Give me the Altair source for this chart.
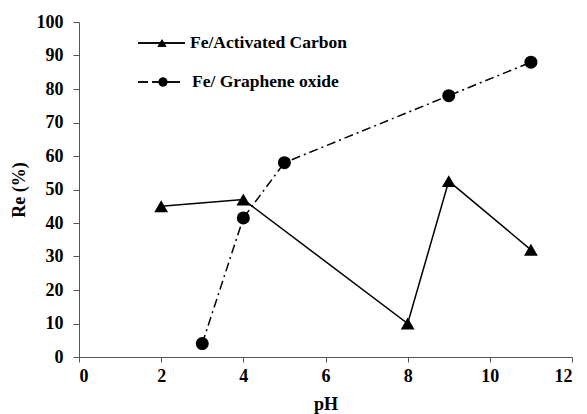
import altair as alt
import pandas as pd

# pH values and removal efficiency (%) for each adsorbent
ph_ac = [2, 4, 8, 9, 11]
re_ac = [45, 47, 10, 52.5, 32]
ph_go = [3, 4, 5, 9, 11]
re_go = [4, 41.5, 58, 78, 88]

series_names = ["Fe/Activated Carbon", "Fe/ Graphene oxide"]

ac = pd.DataFrame({"pH": ph_ac, "Re": re_ac, "series": series_names[0]})
go = pd.DataFrame({"pH": ph_go, "Re": re_go, "series": series_names[1]})

FONT = "Liberation Serif"

x = alt.X("pH:Q", scale=alt.Scale(domain=[0, 12], nice=False),
          axis=alt.Axis(values=list(range(0, 13, 2)), title="pH", grid=False,
                        labelFont=FONT, labelFontSize=18, labelFontWeight="bold",
                        titleFont=FONT, titleFontSize=18, titleFontWeight="bold",
                        labelColor="black", titleColor="black",
                        domainColor="#555", tickColor="#555", tickSize=5,
                        labelPadding=5, titlePadding=10))
y = alt.Y("Re:Q", scale=alt.Scale(domain=[0, 100], nice=False),
          axis=alt.Axis(values=list(range(0, 101, 10)), title="Re (%)", grid=False,
                        labelFont=FONT, labelFontSize=18, labelFontWeight="bold",
                        titleFont=FONT, titleFontSize=18, titleFontWeight="bold",
                        labelColor="black", titleColor="black",
                        domainColor="#555", tickColor="#555", tickSize=6,
                        labelPadding=10, titlePadding=8))

ac_line = alt.Chart(ac).mark_line(color="black", strokeWidth=1.5).encode(x=x, y=y)
ac_pts = alt.Chart(ac).mark_point(shape="triangle-up", filled=True, color="black",
                                  size=190, opacity=1).encode(x=x, y=y)
go_line = alt.Chart(go).mark_line(color="black", strokeWidth=1.5,
                                  strokeDash=[9, 4, 2, 4]).encode(x=x, y=y)
go_pts = alt.Chart(go).mark_point(shape="circle", filled=True, color="black",
                                  size=170, opacity=1).encode(x=x, y=y)

# Legend drawn inside the plot area
legend_df = pd.DataFrame({"label": series_names, "row": [0, 1]})
leg_y = [21, 60]
leg_ac_line = alt.Chart(legend_df).mark_rule(color="black", strokeWidth=1.5).encode(
    x=alt.value(59), x2=alt.value(106), y=alt.value(leg_y[0]))
leg_ac_pt = alt.Chart(legend_df).mark_point(shape="triangle-up", filled=True, color="black",
                                             size=80, opacity=1).encode(
    x=alt.value(83), y=alt.value(leg_y[0]))
leg_go_line1 = alt.Chart(legend_df).mark_rule(color="black", strokeWidth=1.5).encode(
    x=alt.value(59), x2=alt.value(69), y=alt.value(leg_y[1]))
leg_go_line2 = alt.Chart(legend_df).mark_rule(color="black", strokeWidth=1.5).encode(
    x=alt.value(73), x2=alt.value(101), y=alt.value(leg_y[1]))
leg_go_pt = alt.Chart(legend_df).mark_point(shape="circle", filled=True, color="black",
                                             size=80, opacity=1).encode(
    x=alt.value(84), y=alt.value(leg_y[1]))
leg_text_ac = alt.Chart(pd.DataFrame({"label": [series_names[0]]})).mark_text(
    align="left", baseline="middle", font=FONT, fontSize=17.5, fontWeight="bold",
    color="black").encode(x=alt.value(111), y=alt.value(leg_y[0]), text="label:N")
leg_text_go = alt.Chart(pd.DataFrame({"label": [series_names[1]]})).mark_text(
    align="left", baseline="middle", font=FONT, fontSize=17.5, fontWeight="bold",
    color="black").encode(x=alt.value(113), y=alt.value(leg_y[1]), text="label:N")

chart = alt.layer(
    ac_line, go_line, ac_pts, go_pts,
    leg_ac_line, leg_ac_pt, leg_go_line1, leg_go_line2, leg_go_pt,
    leg_text_ac, leg_text_go,
).properties(
    width=493, height=335,
    autosize=alt.AutoSizeParams(type="none"),
    padding={"left": 79, "top": 22, "right": 15, "bottom": 57},
    background="white",
).configure_view(stroke=None)

chart.save("out.html", embed_options={"renderer": "svg", "actions": False})
